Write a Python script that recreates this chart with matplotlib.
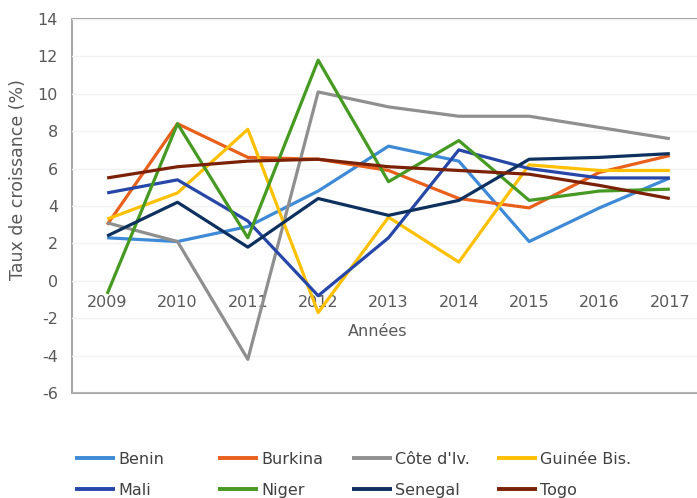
import matplotlib
matplotlib.use('Agg')
import matplotlib.pyplot as plt

# donnees
annees = [2009, 2010, 2011, 2012, 2013, 2014, 2015, 2016, 2017]
pays = ['Benin', 'Burkina', "Côte d'Iv.", 'Guinée Bis.', 'Mali', 'Niger', 'Senegal', 'Togo']
benin = [2.3, 2.1, 2.9, 4.8, 7.2, 6.4, 2.1, 3.9, 5.5]
burkina = [3.0, 8.4, 6.6, 6.5, 5.9, 4.4, 3.9, 5.8, 6.7]
cote_iv = [3.1, 2.1, -4.2, 10.1, 9.3, 8.8, 8.8, 8.2, 7.6]
guinee_bis = [3.3, 4.7, 8.1, -1.7, 3.4, 1.0, 6.2, 5.9, 5.9]
mali = [4.7, 5.4, 3.2, -0.8, 2.3, 7.0, 6.0, 5.5, 5.5]
niger = [-0.7, 8.4, 2.3, 11.8, 5.3, 7.5, 4.3, 4.8, 4.9]
senegal = [2.4, 4.2, 1.8, 4.4, 3.5, 4.3, 6.5, 6.6, 6.8]
togo = [5.5, 6.1, 6.4, 6.5, 6.1, 5.9, 5.7, 5.1, 4.4]
series = [benin, burkina, cote_iv, guinee_bis, mali, niger, senegal, togo]
couleurs = ['#3E8AD6', '#E8601C', '#8F8F8F', '#FFC000',
            '#2747A8', '#469A22', '#0D305E', '#7B2106']

plt.rcParams['font.family'] = 'DejaVu Sans'
plt.rcParams['font.size'] = 11.5
plt.rcParams['axes.unicode_minus'] = False

fig = plt.figure(figsize=(6.97, 4.98), dpi=100)
ax = fig.add_axes([72 / 697, 1 - 393 / 498, 633 / 697, 374 / 498])

lignes = []
for nom, val, c in zip(pays, series, couleurs):
    l, = ax.plot(annees, val, color=c, lw=2.3, label=nom, solid_capstyle='butt')
    lignes.append(l)

ax.set_xlim(2008.5, 2017.5)
ax.set_ylim(-6, 14)
ax.set_yticks(range(-6, 15, 2))
ax.set_xticks(annees)
ax.grid(axis='y', color='#F2F2F2', lw=1)
ax.set_axisbelow(True)

# cadre gris, axe des x place a 0
ax.patch.set_edgecolor('#A6A6A6')
ax.patch.set_linewidth(1.5)
for s in ['top', 'right', 'left']:
    ax.spines[s].set_visible(False)
ax.spines['bottom'].set_position(('data', 0))
ax.spines['bottom'].set_color('none')
ax.tick_params(axis='both', length=0, colors='#595959', labelsize=11.5)
ax.tick_params(axis='x', pad=10)
ax.tick_params(axis='y', pad=10)

ax.set_xlabel('Années', color='#595959', fontsize=11.5)
ax.xaxis.set_label_coords(0.483, 0.185)
ax.set_ylabel('Taux de croissance (%)', color='#595959', fontsize=12.5)
ax.yaxis.set_label_coords(-0.071, 0.572)

# legende en 4 colonnes
xs = [75, 218, 352, 497]
for i, x in enumerate(xs):
    leg = fig.legend(handles=[lignes[i], lignes[i + 4]], loc='upper left',
                     bbox_to_anchor=(x / 697, 1 - 452 / 498), frameon=False,
                     borderpad=0, borderaxespad=0, handlelength=2.5,
                     handletextpad=0.2, labelspacing=1.0, fontsize=11.5)
    for t in leg.get_texts():
        t.set_color('#404040')
    for h in leg.legend_handles:
        h.set_linewidth(2.8)

fig.savefig('out.png', dpi=100)
